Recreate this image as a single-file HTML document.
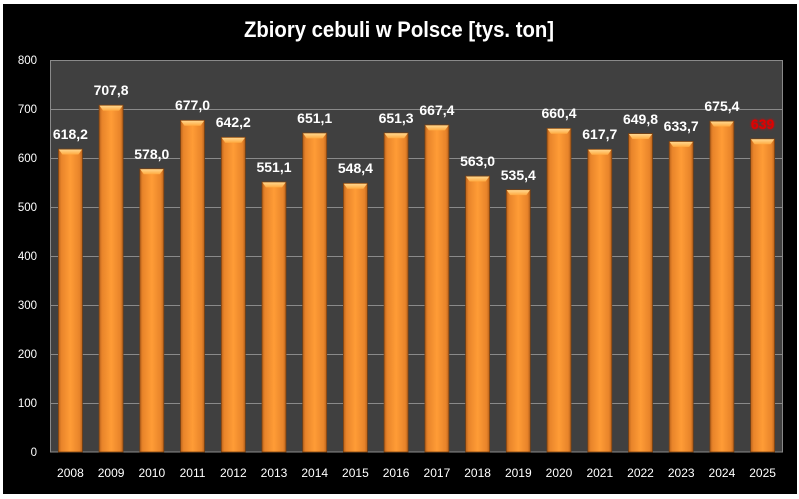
<!DOCTYPE html>
<html><head><meta charset="utf-8"><style>
html,body{margin:0;padding:0;background:#fff;}
svg{display:block;}
text{font-family:"Liberation Sans",sans-serif;}
</style></head><body>
<svg width="799" height="499" viewBox="0 0 799 499" xmlns="http://www.w3.org/2000/svg">
<defs>
<linearGradient id="g" x1="0" y1="0" x2="1" y2="0">
<stop offset="0" stop-color="#B8621C"/>
<stop offset="0.12" stop-color="#E8842A"/>
<stop offset="0.5" stop-color="#FF9C36"/>
<stop offset="0.88" stop-color="#E8842A"/>
<stop offset="1" stop-color="#B8621C"/>
</linearGradient>
<linearGradient id="t" x1="0" y1="0" x2="0" y2="1">
<stop offset="0" stop-color="#FFD890"/>
<stop offset="1" stop-color="#FFAA40"/>
</linearGradient>
<filter id="glow" x="-20%" y="-20%" width="140%" height="140%">
<feGaussianBlur stdDeviation="1.2" result="b"/>
<feMerge><feMergeNode in="b"/><feMergeNode in="SourceGraphic"/></feMerge>
</filter>
</defs>
<rect x="3" y="4" width="794" height="490" fill="#000"/>
<rect x="50.5" y="60.5" width="732" height="391.5" fill="#404040" stroke="#8a8a8a" stroke-width="1"/>
<g stroke="#8a8a8a" stroke-width="1">
<line x1="50" y1="109.5" x2="783" y2="109.5"/>
<line x1="50" y1="158.5" x2="783" y2="158.5"/>
<line x1="50" y1="207.5" x2="783" y2="207.5"/>
<line x1="50" y1="256.5" x2="783" y2="256.5"/>
<line x1="50" y1="305.5" x2="783" y2="305.5"/>
<line x1="50" y1="354.5" x2="783" y2="354.5"/>
<line x1="50" y1="403.5" x2="783" y2="403.5"/>
</g>
<text x="399" y="37" fill="#fff" font-size="22" font-weight="bold" text-anchor="middle" textLength="310" lengthAdjust="spacingAndGlyphs">Zbiory cebuli w Polsce [tys. ton]</text>
<g fill="#fff" font-size="11.5" text-anchor="end">
<text x="37" y="64">800</text>
<text x="37" y="113">700</text>
<text x="37" y="162">600</text>
<text x="37" y="211">500</text>
<text x="37" y="260">400</text>
<text x="37" y="309">300</text>
<text x="37" y="358">200</text>
<text x="37" y="407">100</text>
<text x="37" y="456">0</text>
</g>
<g id="bars" stroke="#7A4010" stroke-width="0.8">
<rect x="58.4" y="149.1" width="24" height="302.9" fill="url(#g)"/>
<rect x="99.1" y="105.2" width="24" height="346.8" fill="url(#g)"/>
<rect x="139.8" y="168.8" width="24" height="283.2" fill="url(#g)"/>
<rect x="180.5" y="120.3" width="24" height="331.7" fill="url(#g)"/>
<rect x="221.3" y="137.3" width="24" height="314.7" fill="url(#g)"/>
<rect x="262.0" y="182.0" width="24" height="270.0" fill="url(#g)"/>
<rect x="302.7" y="133.0" width="24" height="319.0" fill="url(#g)"/>
<rect x="343.4" y="183.3" width="24" height="268.7" fill="url(#g)"/>
<rect x="384.1" y="132.9" width="24" height="319.1" fill="url(#g)"/>
<rect x="424.9" y="125.0" width="24" height="327.0" fill="url(#g)"/>
<rect x="465.6" y="176.1" width="24" height="275.9" fill="url(#g)"/>
<rect x="506.3" y="189.7" width="24" height="262.3" fill="url(#g)"/>
<rect x="547.0" y="128.4" width="24" height="323.6" fill="url(#g)"/>
<rect x="587.8" y="149.3" width="24" height="302.7" fill="url(#g)"/>
<rect x="628.5" y="133.6" width="24" height="318.4" fill="url(#g)"/>
<rect x="669.2" y="141.5" width="24" height="310.5" fill="url(#g)"/>
<rect x="709.9" y="121.1" width="24" height="330.9" fill="url(#g)"/>
<rect x="750.6" y="138.9" width="24" height="313.1" fill="url(#g)"/>
</g>
<g fill="url(#t)">
<polygon points="58.8,149.5 82,149.5 78.4,154.5 62.4,154.5"/>
<polygon points="99.5,105.6 122.7,105.6 119.1,110.6 103.1,110.6"/>
<polygon points="140.2,169.2 163.4,169.2 159.8,174.2 143.8,174.2"/>
<polygon points="180.9,120.7 204.1,120.7 200.5,125.7 184.5,125.7"/>
<polygon points="221.7,137.7 244.9,137.7 241.3,142.7 225.3,142.7"/>
<polygon points="262.4,182.4 285.6,182.4 282,187.4 266,187.4"/>
<polygon points="303.1,133.4 326.3,133.4 322.7,138.4 306.7,138.4"/>
<polygon points="343.8,183.7 367,183.7 363.4,188.7 347.4,188.7"/>
<polygon points="384.5,133.3 407.7,133.3 404.1,138.3 388.1,138.3"/>
<polygon points="425.3,125.4 448.5,125.4 444.9,130.4 428.9,130.4"/>
<polygon points="466,176.5 489.2,176.5 485.6,181.5 469.6,181.5"/>
<polygon points="506.7,190.1 529.9,190.1 526.3,195.1 510.3,195.1"/>
<polygon points="547.4,128.8 570.6,128.8 567,133.8 551,133.8"/>
<polygon points="588.2,149.7 611.4,149.7 607.8,154.7 591.8,154.7"/>
<polygon points="628.9,134 652.1,134 648.5,139 632.5,139"/>
<polygon points="669.6,141.9 692.8,141.9 689.2,146.9 673.2,146.9"/>
<polygon points="710.3,121.5 733.5,121.5 729.9,126.5 713.9,126.5"/>
<polygon points="751,139.3 774.2,139.3 770.6,144.3 754.6,144.3"/>
</g>
<g fill="#fff" font-size="14" font-weight="bold" text-anchor="middle">
<text x="70.4" y="139">618,2</text>
<text x="111.1" y="95">707,8</text>
<text x="151.8" y="159">578,0</text>
<text x="192.5" y="110">677,0</text>
<text x="233.3" y="127">642,2</text>
<text x="274.0" y="172">551,1</text>
<text x="314.7" y="123">651,1</text>
<text x="355.4" y="173">548,4</text>
<text x="396.1" y="123">651,3</text>
<text x="436.9" y="115">667,4</text>
<text x="477.6" y="166">563,0</text>
<text x="518.3" y="180">535,4</text>
<text x="559.0" y="118">660,4</text>
<text x="599.8" y="139">617,7</text>
<text x="640.5" y="124">649,8</text>
<text x="681.2" y="131">633,7</text>
<text x="721.9" y="111">675,4</text>
</g>
<text x="762.6" y="129" fill="#E00000" font-size="14" font-weight="bold" text-anchor="middle" filter="url(#glow)">639</text>
<g fill="#fff" font-size="12" text-anchor="middle">
<text x="70.4" y="477">2008</text>
<text x="111.1" y="477">2009</text>
<text x="151.8" y="477">2010</text>
<text x="192.5" y="477">2011</text>
<text x="233.3" y="477">2012</text>
<text x="274.0" y="477">2013</text>
<text x="314.7" y="477">2014</text>
<text x="355.4" y="477">2015</text>
<text x="396.1" y="477">2016</text>
<text x="436.9" y="477">2017</text>
<text x="477.6" y="477">2018</text>
<text x="518.3" y="477">2019</text>
<text x="559.0" y="477">2020</text>
<text x="599.8" y="477">2021</text>
<text x="640.5" y="477">2022</text>
<text x="681.2" y="477">2023</text>
<text x="721.9" y="477">2024</text>
<text x="762.6" y="477">2025</text>
</g>
</svg>
</body></html>
